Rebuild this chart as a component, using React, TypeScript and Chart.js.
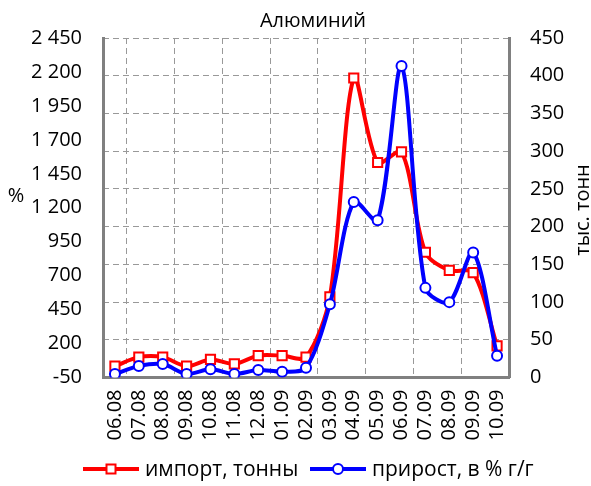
import { useEffect, useRef } from "react";
import { Chart, registerables } from "chart.js";

Chart.register(...registerables);

const categories = [
  "06.08", "07.08", "08.08", "09.08", "10.08", "11.08", "12.08", "01.09",
  "02.09", "03.09", "04.09", "05.09", "06.09", "07.09", "08.09", "09.09", "10.09",
];
// импорт, тонны (right axis, тыс. тонн)
const importTonnes = [15, 27, 27, 15, 24, 18, 29, 29, 27, 107, 397, 285, 299, 166, 142, 139, 42];
// прирост, в % г/г (left axis, %)
const growthPct = [-24, 35, 49, -24, 10, -24, 5, -7, 22, 490, 1243, 1108, 2243, 610, 505, 870, 110];

const leftMin = -50;
const leftMax = 2450;
const leftStep = 250;
const rightMin = 0;
const rightMax = 450;
const rightStep = 50;

const titleText = "Алюминий";
const leftAxisTitle = "%";
const rightAxisTitle = "тыс. тонн";
const importLabel = "импорт, тонны";
const growthLabel = "прирост, в % г/г";

const FONT = "'Open Sans', sans-serif";

function fmtThousands(v: number): string {
  const s = Math.abs(v).toString();
  const parts: string[] = [];
  let rest = s;
  while (rest.length > 3) {
    parts.unshift(rest.slice(-3));
    rest = rest.slice(0, -3);
  }
  parts.unshift(rest);
  return (v < 0 ? "-" : "") + parts.join(" ");
}

const decorPlugin = {
  id: "decor",
  afterDraw(chart: any) {
    const ctx = chart.ctx as CanvasRenderingContext2D;
    const area = chart.chartArea;
    ctx.save();
    ctx.fillStyle = "#000";
    ctx.font = `20px ${FONT}`;
    ctx.textAlign = "center";
    ctx.textBaseline = "middle";
    ctx.fillText(titleText, (area.left + area.right) / 2 + 7, 21);
    ctx.fillText(leftAxisTitle, 16, 196);
    ctx.save();
    ctx.translate(583, 210);
    ctx.rotate(-Math.PI / 2);
    ctx.fillText(rightAxisTitle, 0, 0);
    ctx.restore();

    // legend
    const ly = 469;
    const drawItem = (x0: number, x1: number, color: string, marker: "rect" | "circle", text: string) => {
      ctx.strokeStyle = color;
      ctx.lineWidth = 4;
      ctx.beginPath();
      ctx.moveTo(x0, ly);
      ctx.lineTo(x1, ly);
      ctx.stroke();
      const cx = (x0 + x1) / 2;
      ctx.fillStyle = "#fff";
      ctx.lineWidth = 2;
      ctx.beginPath();
      if (marker === "rect") {
        ctx.rect(cx - 4.5, ly - 4.5, 9, 9);
      } else {
        ctx.arc(cx, ly, 5, 0, Math.PI * 2);
      }
      ctx.fill();
      ctx.stroke();
      ctx.fillStyle = "#000";
      ctx.textAlign = "left";
      ctx.textBaseline = "middle";
      ctx.font = `21px ${FONT}`;
      ctx.fillText(text, x1 + 6, ly + 1);
    };
    drawItem(83, 139, "#ff0000", "rect", importLabel);
    drawItem(310, 366, "#0000ff", "circle", growthLabel);
    ctx.restore();
  },
};

export default function App() {
  const ref = useRef<HTMLCanvasElement | null>(null);

  useEffect(() => {
    if (!ref.current) return;
    Chart.defaults.color = "#000";
    Chart.defaults.font.family = FONT;
    Chart.defaults.font.size = 20;
    const chart = new Chart(ref.current, {
      type: "line",
      data: {
        labels: categories,
        datasets: [
          {
            label: importLabel,
            data: importTonnes,
            yAxisID: "y1",
            borderColor: "#ff0000",
            borderWidth: 4,
            tension: 0.3,
            pointStyle: "rect",
            pointRadius: 6.5,
            pointBorderWidth: 2,
            pointBackgroundColor: "#ffffff",
            pointBorderColor: "#ff0000",
            order: 2,
          },
          {
            label: growthLabel,
            data: growthPct,
            yAxisID: "y",
            borderColor: "#0000ff",
            borderWidth: 4,
            tension: 0.3,
            pointStyle: "circle",
            pointRadius: 5,
            pointBorderWidth: 2,
            pointBackgroundColor: "#ffffff",
            pointBorderColor: "#0000ff",
            order: 1,
          },
        ],
      },
      options: {
        responsive: false,
        animation: false,
        layout: { padding: { top: 38, left: 0, right: 0, bottom: 0 } },
        plugins: {
          legend: { display: false },
          title: { display: false },
          tooltip: { enabled: false },
        },
        scales: {
          x: {
            type: "category",
            offset: true,
            grid: {
              display: true,
              offset: true,
              drawTicks: false,
              color: (c: any) => (c.index % 2 === 1 ? "#999999" : "rgba(0,0,0,0)"),
              lineWidth: 1,
            },
            border: { display: true, color: "#808080", width: 3, dash: [6, 4] },
            ticks: {
              autoSkip: false,
              maxRotation: 90,
              minRotation: 90,
              padding: 12,
              font: { size: 20, family: FONT },
              color: "#000",
            },
            afterFit: (s: any) => {
              s.height = 108.5;
            },
          },
          y: {
            type: "linear",
            position: "left",
            min: leftMin,
            max: leftMax,
            grid: { display: false, drawTicks: false },
            border: { display: true, color: "#808080", width: 3 },
            ticks: {
              stepSize: leftStep,
              padding: 21,
              font: { size: 20, family: FONT },
              color: "#000",
              callback: (v: any) => fmtThousands(Number(v)),
            },
            afterFit: (s: any) => {
              s.width = 103;
            },
          },
          y1: {
            type: "linear",
            position: "right",
            min: rightMin,
            max: rightMax,
            grid: {
              display: true,
              drawTicks: false,
              color: "#999999",
              lineWidth: 1,
            },
            border: { display: true, color: "#808080", width: 3, dash: [6, 4] },
            ticks: {
              stepSize: rightStep,
              padding: 21,
              font: { size: 20, family: FONT },
              color: "#000",
            },
            afterFit: (s: any) => {
              s.width = 82;
            },
          },
        },
      },
      plugins: [decorPlugin],
    });
    return () => chart.destroy();
  }, []);

  return (
    <div style={{ position: "absolute", left: 0, top: 0, width: 591, height: 486, background: "#fff" }}>
      <canvas ref={ref} width={591} height={486} />
    </div>
  );
}
